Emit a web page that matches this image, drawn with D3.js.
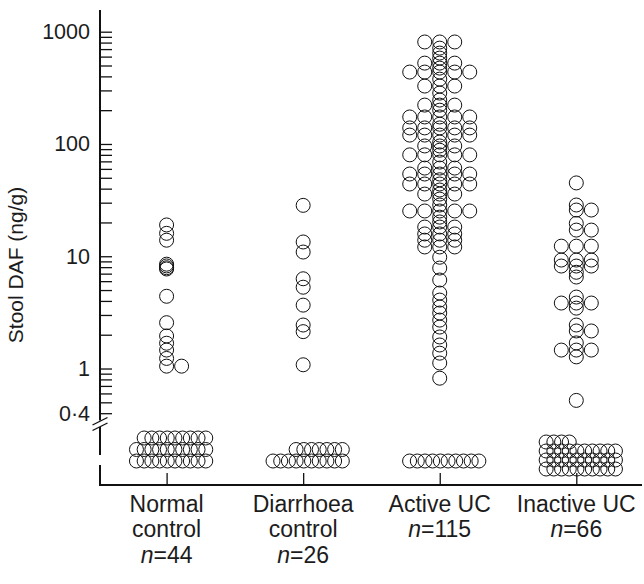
<!DOCTYPE html>
<html><head><meta charset="utf-8">
<script src="https://cdn.jsdelivr.net/npm/d3@7"></script>
<style>
html,body{margin:0;padding:0;background:#fff;}
svg{display:block;}
text{font-family:"Liberation Sans",Arial,Helvetica,sans-serif;fill:#1c1c1c;}
</style></head><body>
<svg id="chart" width="644" height="584"></svg>
<script>
// ---------------- data ----------------
const categories = ["Normal control", "Diarrhoea control", "Active UC", "Inactive UC"];
const labelLines = [["Normal", "control"], ["Diarrhoea", "control"], ["Active UC"], ["Inactive UC"]];
const nValues = [44, 26, 115, 66];

// detectable stool DAF values (ng/g)
const normalControl = [19, 16, 13.9, 8.5, 8.2, 7.9, 7.7, 4.4, 2.56, 1.95, 1.68, 1.46, 1.23, 1.05, 1.05];
const diarrhoeaControl = [28.4, 13.4, 10.9, 6.3, 5.3, 3.67, 2.44, 2.13, 1.08];
const activeUC = [
  810, 810, 810, 714, 645, 582, 525, 525, 525, 474,
  437, 437, 437, 437, 437, 378, 328, 328, 328, 284,
  246, 222, 222, 222, 200, 174, 174, 174, 174, 174,
  150, 139, 139, 139, 139, 139, 120, 120, 120, 120, 120,
  104, 96, 96, 96, 88, 80, 80, 80, 80, 80,
  69, 61, 61, 61, 54, 54, 54, 54, 54, 48,
  44, 44, 44, 44, 44, 38.9, 35.8, 35.8, 35.8, 32.3,
  28.6, 25.3, 25.3, 25.3, 25.3, 25.3, 22.3, 20.2, 18.2, 18.2, 18.2,
  15.8, 15.8, 15.8, 13.9, 13.9, 13.9, 12.1, 12.1, 12.1,
  9.8, 7.85, 6.14, 4.7, 4.07, 3.53, 3.12, 2.7, 2.34, 1.91, 1.62, 1.37, 1.12, 0.82
];
const inactiveUC = [
  45, 28.6, 25.8, 25.8, 19.6, 17.1, 17.1, 12.3, 12.3, 12.3,
  9.25, 9.25, 9.25, 8.18, 8.18, 8.18, 7.2, 6.53, 4.33,
  3.83, 3.83, 3.83, 3.45, 2.44, 2.16, 2.16, 1.69, 1.46, 1.46, 1.46, 1.27, 0.52
];
// samples below the detection limit (plotted below the axis break)
const undetectable = [29, 17, 10, 34];

const yTickValues = [0.4, 1, 10, 100, 1000];
const yTickLabels = ["0·4", "1", "10", "100", "1000"];
const yAxisTitle = "Stool DAF (ng/g)";

const groups = [normalControl, diarrhoeaControl, activeUC, inactiveUC];

// ---------------- layout ----------------
const svg = d3.select("#chart");
const axisX = 100, axisBottomY = 485;
const R = 7, colStep = 15;

const y = d3.scaleLog().domain([0.4, 1000]).range([413.2, 31.7]);
const x = d3.scalePoint().domain(categories).range([166.6, 576.3]);

// y axis (ticks pointing inward)
const yAxis = d3.axisLeft(y)
  .tickValues(y.ticks())
  .tickSizeInner(-12).tickSizeOuter(0).tickPadding(10)
  .tickFormat(v => {
    const i = yTickValues.findIndex(t => Math.abs(t - v) / t < 1e-6);
    return i >= 0 ? yTickLabels[i] : "";
  });
const gy = svg.append("g").attr("transform", `translate(${axisX},0)`).call(yAxis);
gy.select(".domain").remove();
gy.selectAll(".tick line").attr("stroke", "#111").attr("stroke-width", 1.3);
gy.selectAll(".tick text").attr("font-size", 21.5).attr("fill", "#1c1c1c")
  .attr("font-family", '"Liberation Sans",Arial,Helvetica,sans-serif');

// axis line with break
const axisG = svg.append("g").attr("stroke", "#111").attr("fill", "none");
const segs = [[10, 420.5], [427, 455], [465, axisBottomY]];
segs.forEach(s => axisG.append("line").attr("x1", axisX).attr("x2", axisX)
  .attr("y1", s[0]).attr("y2", s[1]).attr("stroke-width", 2));
[[92.5, 425, 107.5, 417.5], [92.5, 430.5, 107.5, 423]].forEach(l =>
  axisG.append("line").attr("x1", l[0]).attr("y1", l[1]).attr("x2", l[2]).attr("y2", l[3]).attr("stroke-width", 1.3));

// x axis
const xAxis = d3.axisBottom(x).tickSizeInner(-12).tickSizeOuter(0).tickFormat("");
const gx = svg.append("g").attr("transform", `translate(0,${axisBottomY})`).call(xAxis);
gx.select(".domain").remove();
gx.selectAll(".tick line").attr("stroke", "#111").attr("stroke-width", 1.3);
axisG.append("line").attr("x1", axisX - 1).attr("x2", 642).attr("y1", axisBottomY).attr("y2", axisBottomY).attr("stroke-width", 2);

// y title
svg.append("text")
  .attr("transform", "translate(23,265) rotate(-90)")
  .attr("text-anchor", "middle").attr("font-size", 21)
  .text(yAxisTitle);

// category labels
categories.forEach((c, i) => {
  const t = svg.append("text").attr("text-anchor", "middle").attr("font-size", 23)
    .attr("x", x(c)).attr("y", 511.5);
  labelLines[i].forEach((ln, k) => {
    t.append("tspan").attr("x", x(c)).attr("dy", k === 0 ? 0 : 25.5).text(ln);
  });
  const nl = t.append("tspan").attr("x", x(c)).attr("dy", 25.5);
  nl.append("tspan").attr("font-style", "italic").text("n");
  nl.append("tspan").text("=" + nValues[i]);
});

// detectable points: ties are spread into neighbouring columns
const colOrder = [0, 1, -1, 2, -2, 3, -3];
const pts = [];
groups.forEach((vals, gi) => {
  const placed = {};
  vals.forEach(v => {
    const py = y(v);
    for (const c of colOrder) {
      const list = placed[c] || (placed[c] = []);
      if (!list.some(q => Math.abs(q - py) < 0.5)) {
        list.push(py);
        pts.push({ cx: x(categories[gi]) + c * colStep, cy: py });
        break;
      }
    }
  });
});

// undetectable samples: rows of up to 10 below the break
const perRow = 10, slotStep = 7.7;
const partialAlign = ["end", "end", "end", "start"];
undetectable.forEach((n, gi) => {
  const rows = Math.ceil(n / perRow);
  const base = rows > 3 ? 469 : 461, step = rows > 3 ? 9 : 11.5;
  const rowY = d3.scaleLinear().domain([0, 1]).range([base, base - step]);
  const cx = x(categories[gi]) + 4.5;
  const slotX = d3.scaleLinear().domain([0, perRow - 1])
    .range([cx - slotStep * (perRow - 1) / 2, cx + slotStep * (perRow - 1) / 2]);
  let left = n;
  for (let r = 0; r < rows; r++) {
    const k = Math.min(perRow, left);
    left -= k;
    const start = k < perRow && partialAlign[gi] === "end" ? perRow - k : 0;
    for (let j = 0; j < k; j++) pts.push({ cx: slotX(start + j), cy: rowY(r) });
  }
});

svg.append("g").selectAll("circle").data(pts).join("circle")
  .attr("cx", d => d.cx).attr("cy", d => d.cy).attr("r", R)
  .attr("fill", "none").attr("stroke", "#111").attr("stroke-width", 1);
</script>
</body></html>
